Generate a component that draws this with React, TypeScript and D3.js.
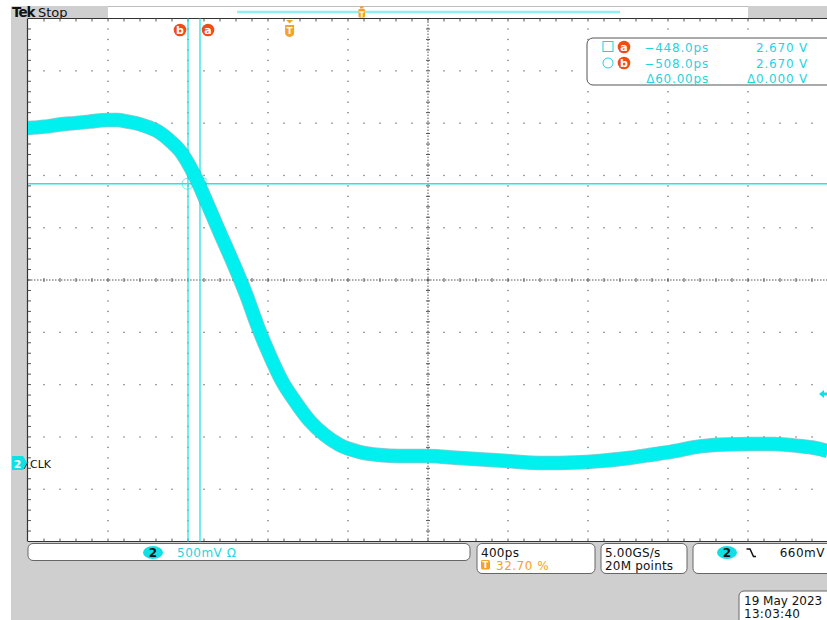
import React from "react";
import * as d3 from "d3";

// Channel 2 (CLK) falling edge, persistence band centre line
const timePs = [
  -1310, -1225, -1150, -1075, -1000, -910, -860, -810, -750, -700, -660, -625,
  -590, -550, -510, -470, -420, -355, -285, -215, -160, -105, -40, 25, 100, 175,
  250, 350, 450, 550, 690, 850, 1050, 1275, 1425, 1550, 1675, 1800, 1925, 2050,
  2175, 2300, 2425, 2550, 2625, 2690,
];
const volts = [
  3.202, 3.216, 3.236, 3.25, 3.264, 3.279, 3.279, 3.264, 3.24, 3.207, 3.173,
  3.125, 3.067, 2.99, 2.875, 2.731, 2.519, 2.23, 1.925, 1.6, 1.31, 1.055,
  0.79, 0.596, 0.404, 0.269, 0.173, 0.106, 0.077, 0.067, 0.067, 0.048, 0.024,
  0.0, 0.005, 0.019, 0.043, 0.077, 0.115, 0.159, 0.178, 0.183, 0.183, 0.163,
  0.144, 0.115,
];

// Cursor readout
const cursorNames = ["a", "b"];
const cursorTimesPs = [-448.0, -508.0];
const cursorVolts = [2.67, 2.67];

// Acquisition / display settings
const timePerDivPs = 400;
const voltsPerDiv = 0.5;
const triggerPosPct = 32.7;
const triggerLevelMv = 660;
const groundDivsBelowCenter = 3.5;
const scaleLabel = "500mV";
const timebaseLabel = "400ps";
const sampleRateLabel = "5.00GS/s";
const recordLabel = "20M points";
const channelName = "CLK";
const dateLabel = "19 May 2023";
const clockLabel = "13:03:40";

const W = 827;
const H = 620;
const GL = 28;
const GR = 828;
const GT = 18.5;
const GB = 541.5;
const XDIV = 10;
const YDIV = 10;

const CYAN = "#00f0f0";
const CURSOR = "#2ae2e6";
const TXT_CYAN = "#1fd4dc";
const ORANGE_RED = "#f24c14";
const ORANGE = "#f5a226";
const FONT = "DejaVu Sans, Verdana, sans-serif";

const x = d3
  .scaleLinear()
  .domain([
    (-triggerPosPct / 100) * XDIV * timePerDivPs,
    (1 - triggerPosPct / 100) * XDIV * timePerDivPs,
  ])
  .range([GL, GR]);

const y = d3
  .scaleLinear()
  .domain([
    -(YDIV / 2 - groundDivsBelowCenter) * voltsPerDiv,
    (YDIV / 2 + groundDivsBelowCenter) * voltsPerDiv,
  ])
  .range([GB, GT]);

const fmtPs = (v: number) => (v < 0 ? "\u2212" : "") + Math.abs(v).toFixed(1) + "ps";
const fmtV = (v: number) => v.toFixed(3) + " V";

function Graticule() {
  const dx = (GR - GL) / XDIV;
  const dy = (GB - GT) / YDIV;
  const mdx = dx / 5;
  const mdy = dy / 5;
  const cx = GL + dx * 5;
  const cy = GT + dy * 5;
  const dots: React.ReactElement[] = [];
  for (let i = 1; i < XDIV; i++) {
    if (i === 5) continue;
    const gx = GL + i * dx;
    for (let j = 1; j < YDIV * 5; j++) {
      dots.push(<rect key={`v${i}-${j}`} x={gx - 0.6} y={GT + j * mdy - 0.6} width={1.3} height={1.3} fill="#6e6e6e" />);
    }
  }
  for (let j = 1; j < YDIV; j++) {
    if (j === 5) continue;
    const gy = GT + j * dy;
    for (let i = 1; i < XDIV * 5; i++) {
      if (i % 5 === 0) continue;
      dots.push(<rect key={`h${j}-${i}`} x={GL + i * mdx - 0.6} y={gy - 0.6} width={1.3} height={1.3} fill="#6e6e6e" />);
    }
  }
  const ticks: React.ReactElement[] = [];
  for (let i = 1; i < XDIV * 5; i++) {
    const tx = GL + i * mdx;
    ticks.push(<line key={`tt${i}`} x1={tx} x2={tx} y1={GT} y2={GT + 3} />);
    ticks.push(<line key={`tb${i}`} x1={tx} x2={tx} y1={GB} y2={GB - 3} />);
    ticks.push(<line key={`tc${i}`} x1={tx} x2={tx} y1={cy - 2} y2={cy + 2} />);
  }
  for (let j = 1; j < YDIV * 5; j++) {
    const ty = GT + j * mdy;
    ticks.push(<line key={`tl${j}`} x1={GL} x2={GL + 3} y1={ty} y2={ty} />);
    ticks.push(<line key={`tm${j}`} x1={cx - 2} x2={cx + 2} y1={ty} y2={ty} />);
  }
  return (
    <g>
      <rect x={GL} y={GT} width={GR - GL} height={GB - GT} fill="#ffffff" />
      {dots}
      <g stroke="#555" strokeWidth={1}>{ticks}</g>
      <line x1={GL} x2={GR} y1={cy} y2={cy} stroke="#555" strokeDasharray="1.5 1.5" />
      <line x1={cx} x2={cx} y1={GT} y2={GB} stroke="#555" strokeDasharray="1.5 1.5" />
      <line x1={GL} x2={GR} y1={GT} y2={GT} stroke="#333" strokeWidth={1.2} />
      <line x1={GL} x2={GR} y1={GB} y2={GB} stroke="#333" strokeWidth={1.2} />
      <line x1={GL - 0.5} x2={GL - 0.5} y1={GT} y2={GB} stroke="#333" strokeWidth={1.2} />
    </g>
  );
}

function Badge({ cx, cy, letter }: { cx: number; cy: number; letter: string }) {
  return (
    <g>
      <circle cx={cx} cy={cy} r={6.3} fill={ORANGE_RED} />
      <text x={cx} y={cy + 3.8} textAnchor="middle" fontFamily={FONT} fontWeight="bold" fontSize={11} fill="#fff">
        {letter}
      </text>
    </g>
  );
}

function ChBadge({ cx, cy }: { cx: number; cy: number }) {
  return (
    <g>
      <ellipse cx={cx} cy={cy} rx={10} ry={6.5} fill="#10e0e4" />
      <text x={cx} y={cy + 4.2} textAnchor="middle" fontFamily={FONT} fontWeight="bold" fontSize={12} fill="#111">
        2
      </text>
    </g>
  );
}

export default function App() {
  const pts: [number, number][] = timePs.map((t, i) => [x(t), y(volts[i])]);
  const line = d3.line().curve(d3.curveMonotoneX);
  const wavePath = line(pts) || "";

  const cxA = x(cursorTimesPs[0]);
  const cxB = x(cursorTimesPs[1]);
  const cyH = y(cursorVolts[0]);
  const trigX = GL + (triggerPosPct / 100) * (GR - GL);
  const trigY = y(triggerLevelMv / 1000);
  const gndY = y(0);
  const dT = Math.abs(cursorTimesPs[0] - cursorTimesPs[1]);
  const dV = Math.abs(cursorVolts[0] - cursorVolts[1]);

  return (
    <svg
      width={W}
      height={H}
      viewBox={`0 0 ${W} ${H}`}
      style={{ position: "fixed", left: 0, top: 0, display: "block" }}
    >
      <rect x={0} y={0} width={W} height={H} fill="#ffffff" />
      <rect x={11} y={6} width={W - 11} height={H - 6} fill="#cfcfcf" />

      {/* header strip */}
      <rect x={108} y={6} width={640} height={12.5} fill="#ffffff" />
      <line x1={108} x2={748} y1={6.5} y2={6.5} stroke="#bdbdbd" />
      <line x1={237} x2={620} y1={12} y2={12} stroke="#8ff0f0" strokeWidth={2.4} />
      <g>
        <rect x={358.5} y={9} width={6.5} height={8.5} fill={ORANGE} rx={1} />
        <rect x={360} y={6.5} width={3.5} height={2} fill={ORANGE} />
        <text x={361.8} y={16.5} textAnchor="middle" fontFamily={FONT} fontWeight="bold" fontSize={7.5} fill="#fff">T</text>
      </g>
      <text x={12} y={17} fontFamily={FONT} fontWeight="bold" fontSize={13.5} letterSpacing={-1} fill="#111">Tek</text>
      <text x={38} y={17} fontFamily={FONT} fontSize={13} fill="#111">Stop</text>

      <Graticule />

      {/* cursors */}
      <g stroke={CURSOR} strokeWidth={1.3}>
        <line x1={cxA} x2={cxA} y1={GT} y2={GB} />
        <line x1={cxB} x2={cxB} y1={GT} y2={GB} />
        <line x1={GL} x2={GR} y1={cyH} y2={cyH} />
      </g>
      <rect x={cxA - 5} y={cyH - 5.5} width={11} height={10} fill="none" stroke={CURSOR} strokeOpacity={0.7} />
      <circle cx={cxB - 0.5} cy={cyH} r={5.5} fill="none" stroke={CURSOR} strokeOpacity={0.7} />

      {/* waveform */}
      <clipPath id="plotClip">
        <rect x={GL} y={GT} width={GR - GL} height={GB - GT} />
      </clipPath>
      <g clipPath="url(#plotClip)" fill="none" strokeLinejoin="round">
        <path d={wavePath} stroke="#2e8f92" strokeOpacity={0.5} strokeWidth={14.5} />
        <path d={wavePath} stroke={CYAN} strokeWidth={13} />
      </g>

      {/* cursor + trigger labels above graticule */}
      <Badge cx={cxB - 8} cy={30} letter="b" />
      <Badge cx={cxA + 8} cy={30} letter="a" />
      <g>
        <path d={`M${trigX - 3.5},20 L${trigX + 3.5},20 L${trigX},23.5 Z`} fill={ORANGE} />
        <path
          d={`M${trigX - 4.5},25 h9 v8 q0,3 -4.5,4 q-4.5,-1 -4.5,-4 Z`}
          fill={ORANGE}
        />
        <text x={trigX} y={34} textAnchor="middle" fontFamily={FONT} fontWeight="bold" fontSize={9} fill="#fff">T</text>
      </g>

      {/* channel ground marker */}
      <path d={`M12,${gndY - 7} h11 l4.5,7 l-4.5,7 h-11 Z`} fill="#10e0e4" />
      <line x1={24} x2={28} y1={gndY + 6} y2={gndY - 1} stroke="#333" strokeWidth={1} />
      <text x={17.5} y={gndY + 4.5} textAnchor="middle" fontFamily={FONT} fontWeight="bold" fontSize={11} fill="#fff">2</text>
      <text x={30} y={gndY + 4.5} fontFamily={FONT} fontSize={11} fill="#111">{channelName}</text>

      {/* trigger level marker */}
      <path d={`M819,${trigY} l5,-4 v2.5 h3 v3 h-3 v2.5 Z`} fill="#10e0e4" />

      {/* cursor readout box */}
      <rect x={587} y={38} width={250} height={47} rx={6} fill="#fff" stroke="#555" />
      <rect x={603} y={41.5} width={10} height={10} fill="none" stroke={TXT_CYAN} />
      <circle cx={608} cy={63} r={5} fill="none" stroke={TXT_CYAN} />
      <Badge cx={624} cy={47} letter={cursorNames[0]} />
      <Badge cx={624} cy={63} letter={cursorNames[1]} />
      <g fontFamily={FONT} fontSize={12} fill={TXT_CYAN} letterSpacing={0.8} textAnchor="end">
        <text x={709} y={51.5}>{fmtPs(cursorTimesPs[0])}</text>
        <text x={709} y={67.5}>{fmtPs(cursorTimesPs[1])}</text>
        <text x={709} y={82.5}>{"\u0394" + dT.toFixed(2) + "ps"}</text>
        <text x={808} y={51.5}>{fmtV(cursorVolts[0])}</text>
        <text x={808} y={67.5}>{fmtV(cursorVolts[1])}</text>
        <text x={808} y={82.5}>{"\u0394" + fmtV(dV)}</text>
      </g>

      {/* bottom status boxes */}
      <rect x={28} y={543.5} width={442} height={17} rx={5} fill="#fff" stroke="#666" />
      <ChBadge cx={153} cy={552.5} />
      <text x={177} y={557} fontFamily={FONT} fontSize={12} fill={TXT_CYAN} letterSpacing={0.5}>
        {scaleLabel} {"\u03a9"}
      </text>

      <rect x={477} y={543.5} width={118} height={30} rx={5} fill="#fff" stroke="#666" />
      <text x={481} y={557} fontFamily={FONT} fontSize={12} fill="#111" letterSpacing={0.3}>{timebaseLabel}</text>
      <rect x={481} y={560} width={9} height={9.5} rx={1.5} fill={ORANGE} />
      <text x={485.5} y={568} textAnchor="middle" fontFamily={FONT} fontWeight="bold" fontSize={8.5} fill="#fff">T</text>
      <text x={496} y={569.5} fontFamily={FONT} fontSize={12} fill={ORANGE} letterSpacing={0.5}>
        {triggerPosPct.toFixed(2)} %
      </text>

      <rect x={601} y={543.5} width={86} height={30} rx={5} fill="#fff" stroke="#666" />
      <text x={605} y={557} fontFamily={FONT} fontSize={12} fill="#111" letterSpacing={0.2}>{sampleRateLabel}</text>
      <text x={605} y={570} fontFamily={FONT} fontSize={12} fill="#111" letterSpacing={0.2}>{recordLabel}</text>

      <rect x={693} y={543.5} width={150} height={30} rx={5} fill="#fff" stroke="#666" />
      <ChBadge cx={727} cy={552.5} />
      <path d="M746.5,549 h3.5 l3.5,7.5 h2.5" fill="none" stroke="#111" strokeWidth={1.5} />
      <text x={825} y={557} textAnchor="end" fontFamily={FONT} fontSize={12} fill="#111" letterSpacing={0.5}>
        {triggerLevelMv}mV
      </text>

      <rect x={739} y={591} width={100} height={40} rx={5} fill="#fff" stroke="#666" />
      <text x={744} y={605} fontFamily={FONT} fontSize={12} fill="#111">{dateLabel}</text>
      <text x={744} y={618} fontFamily={FONT} fontSize={12} fill="#111" letterSpacing={0.3}>{clockLabel}</text>
    </svg>
  );
}
